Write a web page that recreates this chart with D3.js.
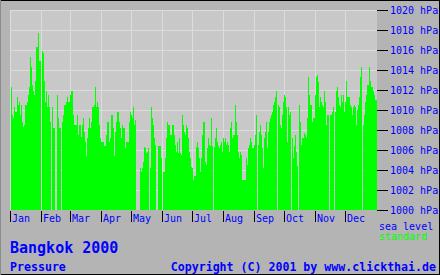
<!DOCTYPE html>
<html>
<head>
<meta charset="utf-8">
<script src="https://cdn.jsdelivr.net/npm/d3@7"></script>
<style>
  html, body { margin: 0; padding: 0; background: #b4b4b4; }
  svg { display: block; }
  text { font-family: "DejaVu Sans Mono", monospace; }
</style>
</head>
<body>
<div id="viz"></div>
<script>
// Luftdruck Bangkok 2000, ein Wert pro Tag (null = kein Wert)
let jan = [1012.3, 1009.5, 1009.2, 1010.3, 1009.8, 1009.8, 1011.3, 1010.5, 1010.8, 1009.5,
           1010.5, 1008.8, 1008.3, 1008.5, 1010.5, 1010.5, 1010.8, 1011.5, 1012.3, 1015.3,
           1014.3, 1012.5, 1011.9, 1011.5, 1012.9, 1016.3, 1016.3, 1017.7, 1014.9, 1014.9, null];
let feb = [1015.9, 1015.7, 1012.9, 1010.8, 1011.9, 1010.3, 1011.5, 1010.3, 1008.8, null,
           1010.3, 1008.2, 1008.2, null, null, 1011.5, 1009.2, 1008.2, 1008.2, null,
           1008.8, 1009.5, 1010.5, 1010.5, 1010.8, 1011.3, 1010.8, 1010.8, 1011.5];
let mar = [1011.9, 1011.9, 1009.5, 1008.5, 1008.5, 1008.5, 1009.5, 1007.5, 1008.5, 1008.5,
           1007.3, 1008.5, 1009.2, 1007.8, 1006.8, 1005.4, 1007.2, 1008.2, 1009.2, 1008.2,
           1008.8, 1010.3, 1010.3, 1010.5, 1012.3, 1010.3, 1010.8, 1010.3, 1008.5, 1007.2, 1006.8];
let apr = [1006.8, 1006.8, 1006.4, 1006.4, 1007.5, 1008.8, 1008.8, 1006.8, 1007.2, 1009.5,
           1009.5, 1008.2, 1005.4, 1007.8, 1008.8, 1009.8, 1009.8, 1008.8, 1008.2, 1007.2,
           1008.5, 1008.2, 1008.2, 1006.2, 1006.8, 1006.8, 1006.8, 1008.8, 1009.8, 1009.5];
let may = [1009.2, 1010.3, 1008.5, 1009.0, null, null, null, null, 1004.2, 1003.8,
           1004.2, 1004.8, 1006.3, 1006.2, 1005.7, 1005.8, 1006.2, null, 1004.2, 1010.3,
           1009.2, 1008.5, 1007.2, 1006.5, null, null, 1006.4, 1006.4, 1006.4, 1005.2, null];
let jun = [1003.8, 1003.8, 1005.2, 1007.2, 1008.8, 1008.5, 1008.5, 1007.5, 1007.5, 1008.5,
           1008.5, 1007.5, 1006.5, 1005.8, 1006.8, 1005.7, 1007.2, 1005.7, 1005.5, 1009.5,
           1008.5, 1007.8, 1007.5, 1008.5, 1008.2, 1007.2, 1005.8, 1005.2, 1004.3, 1004.2];
let jul = [1003.0, 1003.4, 1003.4, 1006.3, 1006.8, 1006.2, 1005.2, 1003.8, 1005.2, 1007.5,
           1008.8, 1008.8, 1004.8, 1004.5, 1006.2, 1007.2, 1006.5, 1006.4, 1009.2, 1006.4,
           null, 1006.3, 1007.2, 1008.2, 1006.8, 1006.4, 1006.2, 1006.5, 1006.8, 1005.8, 1007.2];
let aug = [1006.8, 1007.2, 1006.5, 1006.8, 1006.5, 1005.8, 1008.2, 1008.8, 1007.2, 1007.5,
           1007.5, 1010.5, 1008.8, 1007.5, 1005.8, 1005.2, 1005.8, 1005.5, 1003.0, 1003.0,
           1003.0, 1003.0, 1005.2, 1004.5, 1006.2, 1006.5, 1007.2, 1006.8, 1006.2, 1006.2, 1006.5];
let sep = [1007.5, 1009.5, null, 1006.5, 1007.8, 1008.5, 1007.5, 1006.2, 1004.2, 1007.2,
           1007.8, 1008.8, 1006.2, 1007.8, 1008.8, 1009.2, 1009.5, 1009.8, 1010.5, 1010.8,
           1011.3, 1011.9, null, 1010.5, 1010.3, 1008.5, 1008.2, 1009.5, 1010.8, 1011.5];
let oct = [1011.3, 1010.3, 1006.8, 1010.3, 1009.5, 1009.8, null, 1007.2, 1005.2, 1006.4,
           1007.5, 1005.8, 1004.4, null, 1010.5, 1008.8, 1006.5, 1007.2, 1007.2, 1007.7,
           1007.5, 1007.2, 1009.2, 1013.3, 1011.5, 1010.5, 1010.5, 1008.8, 1009.2, 1009.2, 1011.5];
let nov = [1013.3, 1013.5, 1012.8, 1010.3, 1011.3, 1010.8, 1010.5, 1010.3, 1011.9, 1010.8,
           1008.5, 1009.5, 1009.5, null, 1009.5, 1009.5, 1009.8, 1010.3, null, 1009.8,
           1011.9, 1012.3, 1011.3, 1010.5, 1010.3, 1011.5, 1010.8, 1011.5, 1009.8, 1010.8];
let dec = [1012.9, 1011.3, 1011.3, 1011.3, 1010.5, 1010.3, 1009.5, 1010.3, 1010.5, 1010.3,
           1008.5, 1010.0, 1010.5, 1011.3, 1013.3, 1014.3, null, 1008.5, 1009.5, 1010.8,
           1011.5, 1012.5, 1012.5, 1014.3, 1012.9, 1012.3, 1012.3, 1011.9, 1011.5, 1011.0, 1011.0];

let monate = ['Jan', 'Feb', 'Mar', 'Apr', 'May', 'Jun', 'Jul', 'Aug', 'Sep', 'Oct', 'Nov', 'Dec'];
let druckTicks = [1000, 1002, 1004, 1006, 1008, 1010, 1012, 1014, 1016, 1018, 1020];

let w = 440;
let h = 275;

// Tageswerte zusammensetzen, Monatsanfang merken
let tage = [];
let monatsAnfang = [];
[jan, feb, mar, apr, may, jun, jul, aug, sep, oct, nov, dec].forEach(function(m, i) {
    monatsAnfang.push(tage.length);
    m.forEach(function(v) { tage.push(v); });
});

let svg = d3.select('#viz')
    .append('svg')
        .attr('width', w)
        .attr('height', h)
        .style('shape-rendering', 'crispEdges');

// Skalen: 1 Pixel pro Tag, 10 Pixel pro hPa
let x = d3.scaleLinear().domain([0, tage.length]).range([11, 11 + tage.length]);
let y = d3.scaleLinear().domain([1000, 1020]).range([210, 10]);

// Hintergrund und Rahmen
svg.append('rect').attr('x', 0).attr('y', 0).attr('width', w).attr('height', h).attr('fill', '#b4b4b4');
svg.append('rect').attr('x', 10).attr('y', 10).attr('width', 367).attr('height', 200).attr('fill', '#c8c8c8');

// Gitter horizontal
svg.append('g')
    .selectAll('line')
    .data(druckTicks.filter(d => d > 1000))
    .enter().append('line')
        .attr('x1', 10).attr('x2', 377)
        .attr('y1', d => y(d) + 0.5).attr('y2', d => y(d) + 0.5)
        .attr('stroke', '#dcdcdc');

// Gitter vertikal (Monatsgrenzen)
svg.append('g')
    .selectAll('line')
    .data(monatsAnfang)
    .enter().append('line')
        .attr('x1', d => x(d) - 0.5).attr('x2', d => x(d) - 0.5)
        .attr('y1', 10).attr('y2', 210)
        .attr('stroke', '#dcdcdc');

// Balken
svg.append('g')
    .selectAll('rect')
    .data(tage.map((v, i) => ({ i: i, v: v })).filter(d => d.v !== null))
    .enter().append('rect')
        .attr('x', d => x(d.i))
        .attr('width', 1)
        .attr('y', d => y(d.v))
        .attr('height', d => y(1000) - y(d.v))
        .attr('fill', '#00ff00');

// Achse rechts
let achseY = svg.append('g');
achseY.selectAll('line')
    .data(druckTicks)
    .enter().append('line')
        .attr('x1', 377).attr('x2', 388)
        .attr('y1', d => y(d) + 0.5).attr('y2', d => y(d) + 0.5)
        .attr('stroke', '#000');
achseY.selectAll('text')
    .data(druckTicks)
    .enter().append('text')
        .attr('x', 390)
        .attr('y', d => y(d) + 4)
        .attr('fill', '#0000ff')
        .style('font-size', '10px')
        .text(d => d + ' hPa');

// Achse unten (Monate)
let achseX = svg.append('g');
achseX.selectAll('line')
    .data(monatsAnfang)
    .enter().append('line')
        .attr('x1', d => x(d) - 0.5).attr('x2', d => x(d) - 0.5)
        .attr('y1', 211).attr('y2', 222)
        .attr('stroke', '#000');
achseX.selectAll('text')
    .data(monatsAnfang)
    .enter().append('text')
        .attr('x', d => x(d) + 1)
        .attr('y', 222)
        .attr('fill', '#0000ff')
        .style('font-size', '10px')
        .text((d, i) => monate[i]);

// Legende
svg.append('text').attr('x', 379).attr('y', 230).attr('fill', '#0000ff')
    .style('font-size', '10px').text('sea level');
svg.append('text').attr('x', 379).attr('y', 240).attr('fill', '#00ff00')
    .style('font-size', '10px').text('standard');

// Titel und Fusszeile
svg.append('text').attr('x', 10).attr('y', 253).attr('fill', '#0000ff')
    .style('font-size', '15px').style('font-weight', 'bold').text('Bangkok 2000');
svg.append('text').attr('x', 10).attr('y', 271).attr('fill', '#0000ff')
    .style('font-size', '11.6px').style('font-weight', 'bold').text('Pressure');
svg.append('text').attr('x', 436).attr('y', 271).attr('fill', '#0000ff')
    .attr('text-anchor', 'end')
    .style('font-size', '11.6px').style('font-weight', 'bold').text('Copyright (C) 2001 by www.clickthai.de');

// Rahmen aussen
svg.append('line').attr('x1', 0).attr('x2', w).attr('y1', 0.5).attr('y2', 0.5).attr('stroke', '#000');
svg.append('line').attr('x1', w - 0.5).attr('x2', w - 0.5).attr('y1', 0).attr('y2', h).attr('stroke', '#000');
svg.append('line').attr('x1', 0).attr('x2', w).attr('y1', h - 0.5).attr('y2', h - 0.5).attr('stroke', '#000');
svg.append('line').attr('x1', 0.5).attr('x2', 0.5).attr('y1', 0).attr('y2', h).attr('stroke', '#8c8c8c');
</script>
</body>
</html>
